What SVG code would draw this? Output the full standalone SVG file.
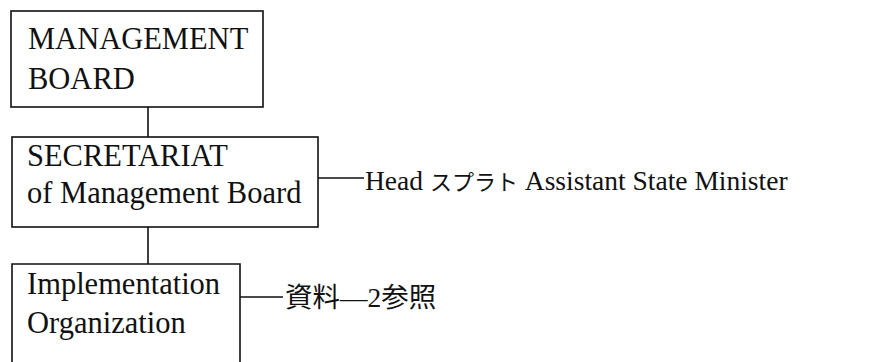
<svg xmlns="http://www.w3.org/2000/svg" width="870" height="362" viewBox="0 0 870 362">
<style>
.box{fill:#fff;stroke:#111;stroke-width:1.6}
.ln{stroke:#111;stroke-width:1.6;fill:none}
.t{font-family:"Liberation Serif","Noto Sans CJK JP",serif;font-size:30.5px;fill:#111}
.r{font-family:"Liberation Serif","Noto Sans CJK JP",serif;font-size:27.5px;fill:#111}
.cj{font-size:22px}
</style>
<rect width="870" height="362" fill="#fff"/>
<g id="connectors">
<path class="ln" d="M148,107V137M148,227V264M318,178H364M240,297H283"/>
</g>
<g id="management-board">
<rect class="box" x="11" y="11" width="252" height="96"/>
<text class="t" x="28" y="49">MANAGEMENT</text>
<text class="t" x="28" y="89">BOARD</text>
</g>
<g id="secretariat">
<rect class="box" x="12" y="137" width="306" height="90"/>
<text class="t" x="27" y="166">SECRETARIAT</text>
<text class="t" x="27" y="203">of Management Board</text>
</g>
<g id="head-label">
<text class="r" x="365" y="190">Head <tspan class="cj">スプラト</tspan> Assistant State Minister</text>
</g>
<g id="implementation">
<path class="ln" d="M12,363V264H240V363"/>
<text class="t" x="27" y="294">Implementation</text>
<text class="t" x="27" y="333">Organization</text>
</g>
<g id="ref-label">
<text class="r" x="285" y="307">資料―2参照</text>
</g>
</svg>
